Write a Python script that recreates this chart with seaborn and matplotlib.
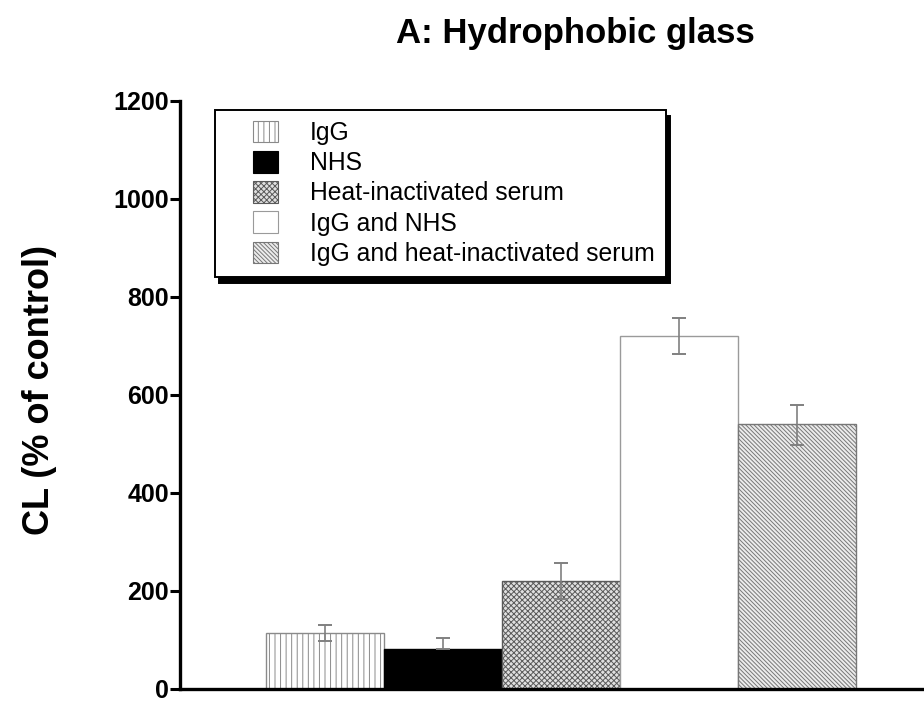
import numpy as np
import pandas as pd
import matplotlib
matplotlib.use("Agg")
import matplotlib.pyplot as plt
import matplotlib.patches as mpatches
from matplotlib.legend_handler import HandlerPatch
import seaborn as sns

categories = ["IgG", "NHS", "Heat-inactivated serum", "IgG and NHS", "IgG and heat-inactivated serum"]
values = [114, 81, 220, 720, 540]
err_lower = [17, 0, 37, 37, 42]
err_upper = [17, 23, 37, 37, 40]
yticks = [0, 200, 400, 600, 800, 1000, 1200]

facecolors = ["white", "black", "#e0e0e0", "white", "#ececec"]
edgecolors = ["#8a8a8a", "black", "#5a5a5a", "#9a9a9a", "#777777"]
hatches = ["|||", "", "xxxxxx", "", "\\\\\\\\\\\\\\\\"]

sns.set_theme(style="white")
plt.rcParams["font.family"] = ["Liberation Sans", "DejaVu Sans"]
plt.rcParams["hatch.linewidth"] = 0.7
for k in ["text.color", "axes.labelcolor", "xtick.color", "ytick.color"]:
    plt.rcParams[k] = "black"

fig = plt.figure(figsize=(9.24, 7.02), dpi=100)
ax = fig.add_axes([180/924, 1-689/702, 1-180/924, (689-101)/702])

df = pd.DataFrame({"cat": categories, "val": values})
sns.barplot(data=df, x="cat", y="val", hue="cat", palette=dict(zip(categories, facecolors)),
            width=1.0, legend=False, ax=ax, errorbar=None)

for p, fc, ec, h in zip(ax.patches, facecolors, edgecolors, hatches):
    p.set_facecolor(fc)
    p.set_edgecolor(ec)
    p.set_hatch(h)
    p.set_linewidth(1.0)

xpos = np.arange(len(categories))
ax.errorbar(xpos, values, yerr=[err_lower, err_upper], fmt="none", ecolor="#808080",
            elinewidth=1.2, capsize=5, capthick=1.4, zorder=5)

ax.set_ylim(0, 1200)
ax.set_xlim(-1.23, 5.08)
ax.set_yticks(yticks)
ax.set_yticklabels([str(t) for t in yticks], fontsize=18, fontweight="bold")
ax.set_xticks([])
ax.set_xlabel("")
ax.set_ylabel("")
for s in ["top", "right"]:
    ax.spines[s].set_visible(False)
for s in ["left", "bottom"]:
    ax.spines[s].set_linewidth(2.4)
    ax.spines[s].set_color("black")
ax.tick_params(axis="y", direction="out", length=7, width=2.2, color="black", pad=1, left=True)


def right_box(legend, orig_handle, xdescent, ydescent, width, height, fontsize):
    w = 18
    h = 15.5
    return mpatches.Rectangle((-xdescent + width - w, -ydescent + (height - h) / 2), w, h)


handles = [mpatches.Patch(facecolor=fc, edgecolor=ec, hatch=h, label=c, linewidth=0.8)
           for c, fc, ec, h in zip(categories, facecolors, edgecolors, hatches)]
leg = ax.legend(handles=handles, loc="upper left", bbox_to_anchor=(215/924, 1-110/702),
                bbox_transform=fig.transFigure, borderaxespad=0, fontsize=17.8,
                handlelength=2.1, handleheight=0.9, handletextpad=1.3, labelspacing=0.25,
                borderpad=0.45, fancybox=False, frameon=True,
                handler_map={mpatches.Patch: HandlerPatch(patch_func=right_box)},
                shadow={"color": "black", "alpha": 1, "ox": 3, "oy": -4})
leg.get_frame().set_edgecolor("black")
leg.get_frame().set_linewidth(1.4)

fig.text(575/924, 1-43/702, "A: Hydrophobic glass", ha="center", va="baseline",
         fontsize=25, fontweight="bold")
fig.text(40/924, 1-390/702, "CL (% of control)", ha="center", va="center",
         rotation=90, fontsize=26, fontweight="bold")

fig.savefig("out.png", dpi=100)
